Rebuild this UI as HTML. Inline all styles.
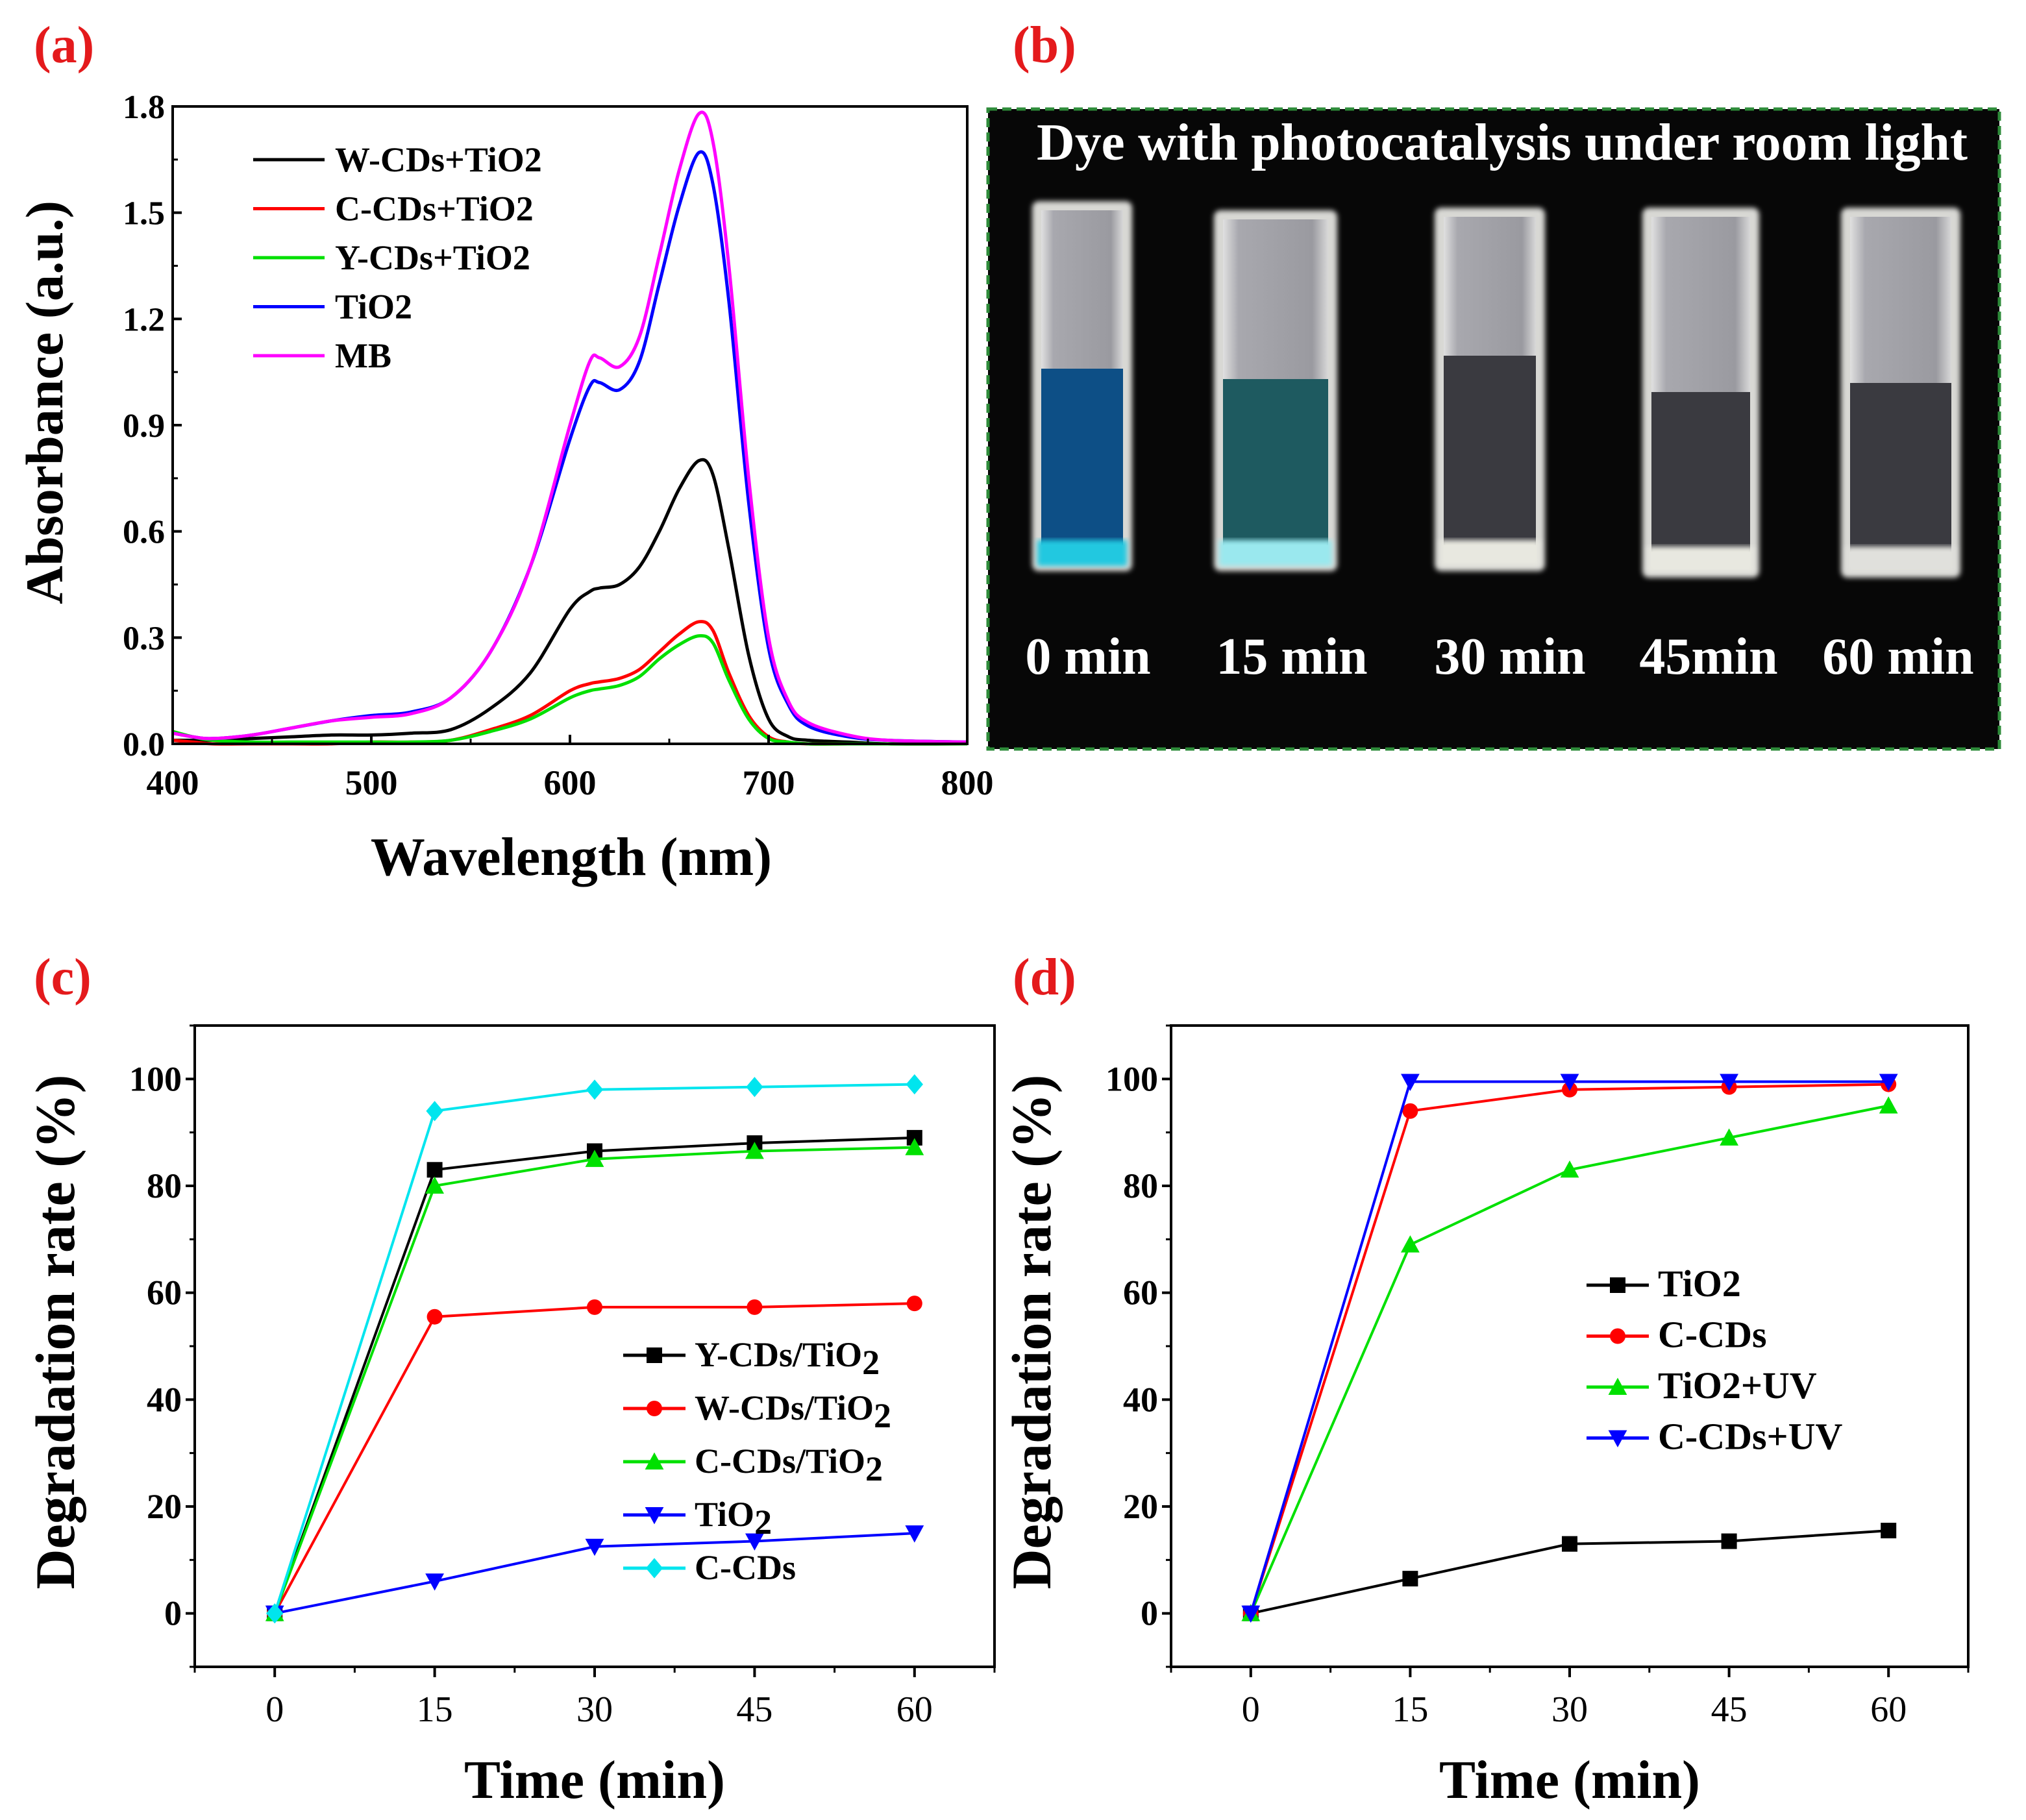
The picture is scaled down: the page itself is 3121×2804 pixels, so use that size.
<!DOCTYPE html>
<html><head><meta charset="utf-8"><style>
html,body{margin:0;padding:0;background:#fff;}
svg{display:block;font-family:"Liberation Serif",serif;}
</style></head><body>
<svg id="fig" xmlns="http://www.w3.org/2000/svg" width="3121" height="2804" viewBox="0 0 3121 2804">
<defs>
<linearGradient id="glass" x1="0" x2="1" y1="0" y2="0">
<stop offset="0" stop-color="#e0e0e0"/><stop offset="0.15" stop-color="#a8a8ae"/><stop offset="0.85" stop-color="#9a9aa0"/><stop offset="1" stop-color="#d8d8d8"/>
</linearGradient>
<filter id="blur"><feGaussianBlur stdDeviation="4"/></filter>
</defs>
<g id="panelA"></g>
<g id="panelB"></g>
<g id="panelC"></g>
<g id="panelD"></g>
</svg>
<script>
// ---------- Panel (a) data ----------
const wavelengths = [400,410,420,440,460,480,500,520,540,560,580,600,610,615,625,635,645,655,665,672,680,690,700,710,720,740,760,800];
const absMB   = [0.03,0.02,0.015,0.025,0.045,0.065,0.075,0.085,0.13,0.26,0.5,0.9,1.08,1.09,1.065,1.15,1.38,1.62,1.78,1.7,1.35,0.75,0.3,0.12,0.06,0.025,0.01,0.005];
const absTiO2 = [0.03,0.02,0.015,0.025,0.045,0.065,0.08,0.09,0.13,0.26,0.5,0.86,1.01,1.02,1.0,1.08,1.3,1.52,1.67,1.58,1.25,0.68,0.27,0.11,0.05,0.02,0.01,0.005];
const absW    = [0.01,0.01,0.01,0.015,0.02,0.025,0.025,0.03,0.04,0.1,0.2,0.38,0.43,0.44,0.45,0.5,0.6,0.72,0.8,0.76,0.55,0.25,0.07,0.02,0.01,0.005,0,0];
const absC    = [0.01,0.005,0,0,0,0,0.005,0.005,0.01,0.04,0.08,0.15,0.17,0.175,0.185,0.21,0.26,0.31,0.345,0.32,0.2,0.08,0.02,0.005,0,0,0,0];
const absY    = [0.035,0.02,0.01,0.005,0.005,0.005,0.005,0.005,0.01,0.035,0.07,0.13,0.15,0.155,0.165,0.19,0.24,0.28,0.305,0.285,0.18,0.07,0.015,0.005,0,0,0,0];
const aXTicks = [400,500,600,700,800];
const aYTicks = [0,0.3,0.6,0.9,1.2,1.5,1.8];
const aYTickLabels = ["0.0","0.3","0.6","0.9","1.2","1.5","1.8"];
const aLegend = ["W-CDs+TiO2","C-CDs+TiO2","Y-CDs+TiO2","TiO2","MB"];
// ---------- Panel (c) data ----------
const times = [0,15,30,45,60];
const cYCDs = [0,83,86.5,88,89];
const cWCDs = [0,55.5,57.3,57.3,58];
const cCCDsTiO2 = [0,80,85,86.5,87.2];
const cTiO2 = [0,6,12.5,13.5,15];
const cCCDs = [0,94,98,98.5,99];
// ---------- Panel (d) data ----------
const dTiO2 = [0,6.5,13,13.5,15.5];
const dCCDs = [0,94,98,98.5,99];
const dTiO2UV = [0,69,83,89,95];
const dCCDsUV = [0,99.5,99.5,99.5,99.5];
const timeTicks = [0,15,30,45,60];
const rateTicks = [0,20,40,60,80,100];

const NS="http://www.w3.org/2000/svg";
function mk(parent,tag,attrs,text){const e=document.createElementNS(NS,tag);for(const k in attrs)e.setAttribute(k,attrs[k]);if(text!==undefined)e.textContent=text;parent.appendChild(e);return e;}
function lin(d0,d1,r0,r1){return v=>r0+(v-d0)/(d1-d0)*(r1-r0);}
function smoothPath(p){
  let d=`M${p[0][0].toFixed(1)},${p[0][1].toFixed(1)}`;
  for(let i=0;i<p.length-1;i++){
    const p0=p[Math.max(0,i-1)],p1=p[i],p2=p[i+1],p3=p[Math.min(p.length-1,i+2)];
    const c1x=p1[0]+(p2[0]-p0[0])/6,c1y=p1[1]+(p2[1]-p0[1])/6;
    const c2x=p2[0]-(p3[0]-p1[0])/6,c2y=p2[1]-(p3[1]-p1[1])/6;
    d+=` C${c1x.toFixed(1)},${c1y.toFixed(1)} ${c2x.toFixed(1)},${c2y.toFixed(1)} ${p2[0].toFixed(1)},${p2[1].toFixed(1)}`;
  }
  return d;
}

function panelLabel(g,x,y,t){const e=mk(g,'text',{x:x,y:y,'font-size':80,'font-weight':'bold',fill:'#e41a1c'},t);

}

function frame(g,L,R,T,B){const e=mk(g,'rect',{x:L,y:T,width:R-L,height:B-T,fill:'none',stroke:'#000','stroke-width':4});

}

function marker(g,type,x,y,color){
  const s=12;let e;
  if(type==='square')e=mk(g,'rect',{x:x-s,y:y-s,width:2*s,height:2*s,fill:color});
  else if(type==='circle')e=mk(g,'circle',{cx:x,cy:y,r:s,fill:color});
  else if(type==='up')e=mk(g,'polygon',{points:`${x},${y-s*1.2} ${x-s*1.2},${y+s} ${x+s*1.2},${y+s}`,fill:color});
  else if(type==='down')e=mk(g,'polygon',{points:`${x},${y+s*1.2} ${x-s*1.2},${y-s} ${x+s*1.2},${y-s}`,fill:color});
  else e=mk(g,'polygon',{points:`${x},${y-s*1.3} ${x+s*1.1},${y} ${x},${y+s*1.3} ${x-s*1.1},${y}`,fill:color});
  
  
}

// ========== Panel A ==========
(function(){
  const g=document.getElementById('panelA');
  panelLabel(g,52,96,'(a)');
  const L=266,R=1490,T=164,B=1146;
  const X=lin(400,800,L,R),Y=lin(0,1.8,B,T);
  const series=[[absW,'#000','w-cds-tio2-line'],[absC,'#ff0000','c-cds-tio2-line'],[absY,'#00e000','y-cds-tio2-line'],[absTiO2,'#0000ff','tio2-line'],[absMB,'#ff00ff','mb-line']];
  series.forEach(s=>{
    const pts=wavelengths.map((w,i)=>[X(w),Y(s[0][i])]);
    const e=mk(g,'path',{d:smoothPath(pts),fill:'none',stroke:s[1],'stroke-width':5,'stroke-linejoin':'round'});
    
    
  });
  frame(g,L,R,T,B);
  aXTicks.forEach(v=>{mk(g,'line',{x1:X(v),x2:X(v),y1:B,y2:B-14,stroke:'#000','stroke-width':4});
    const t=mk(g,'text',{x:X(v),y:B+78,'font-size':54,'font-weight':'bold','text-anchor':'middle'},v);
    
    });
  for(let v=450;v<800;v+=100)mk(g,'line',{x1:X(v),x2:X(v),y1:B,y2:B-8,stroke:'#000','stroke-width':3});
  aYTicks.forEach((v,i)=>{mk(g,'line',{x1:L,x2:L+14,y1:Y(v),y2:Y(v),stroke:'#000','stroke-width':4});
    const t=mk(g,'text',{x:L-12,y:Y(v)+18,'font-size':52,'font-weight':'bold','text-anchor':'end'},aYTickLabels[i]);
    
    });
  for(let v=0.15;v<1.8;v+=0.3)mk(g,'line',{x1:L,x2:L+8,y1:Y(v),y2:Y(v),stroke:'#000','stroke-width':3});
  let t=mk(g,'text',{x:880,y:1348,'font-size':84,'font-weight':'bold','text-anchor':'middle'},'Wavelength (nm)');
  
  
  t=mk(g,'text',{x:0,y:0,'font-size':82,'font-weight':'bold','text-anchor':'middle',transform:'translate(96,620) rotate(-90)'},'Absorbance (a.u.)');
  
  
  const cols=['#000','#ff0000','#00e000','#0000ff','#ff00ff'];
  aLegend.forEach((n,i)=>{const y=246+i*75.5;
    mk(g,'line',{x1:390,x2:500,y1:y,y2:y,stroke:cols[i],'stroke-width':5});
    const e=mk(g,'text',{x:516,y:y+18,'font-size':54,'font-weight':'bold'},n);
    
    });
})();

// ========== Panel B (photo) ==========
(function(){
  const g=document.getElementById('panelB');
  panelLabel(g,1560,96,'(b)');
  let e=mk(g,'rect',{x:1522,y:168,width:1558,height:986,fill:'#070707',stroke:'#2e8b3a','stroke-width':5,'stroke-dasharray':'14,8'});
  
  
  e=mk(g,'text',{x:2314,y:246,'font-size':80,'font-weight':'bold',fill:'#fff','text-anchor':'middle',textLength:1434,lengthAdjust:'spacingAndGlyphs'},'Dye with photocatalysis under room light');
  
  
  const cuv=[[1590,1744,310,880,'#0d4f86',568,'#20c8e0'],[1870,2060,324,880,'#1e5a60',584,'#9ae8ee'],[2210,2380,320,880,'#3a3a40',548,'#e8e8e0'],[2530,2710,320,890,'#3a3a40',604,'#e8e8e0'],[2836,3020,320,890,'#3a3a40',590,'#e0e0dc']];
  const labels=['0 min','15 min','30 min','45min','60 min'];
  const lx=[1676,1990,2326,2632,2924];
  cuv.forEach((c,i)=>{
    const [x0,x1,y0,y1,liq,ly,bot]=c;
    const cg=mk(g,'g',{});
    
    
    mk(cg,'rect',{x:x0,y:y0,width:x1-x0,height:y1-y0,rx:10,fill:'#d8d8d4',filter:'url(#blur)'});
    mk(cg,'rect',{x:x0+14,y:y0+14,width:x1-x0-28,height:ly-y0-14,fill:'url(#glass)'});
    mk(cg,'rect',{x:x0+14,y:ly,width:x1-x0-28,height:y1-ly-40,fill:liq});
    mk(cg,'rect',{x:x0+8,y:y1-48,width:x1-x0-16,height:40,fill:bot,filter:'url(#blur)'});
    const t=mk(g,'text',{x:lx[i],y:1038,'font-size':80,'font-weight':'bold',fill:'#fff','text-anchor':'middle'},labels[i]);
    
    
  });
})();

// ========== Panels C & D ==========
function degPanel(id,label,labX,L,R,seriesList,legendX,legendY0,legendStep,legendFont){
  const g=document.getElementById(id);
  panelLabel(g,labX,1532,label);
  const T=1580,B=2568;
  const X=lin(-7.5,67.5,L,R),Y=lin(-10,110,B,T);
  seriesList.forEach(s=>{
    const pts=times.map((t,i)=>X(t).toFixed(1)+','+Y(s.vals[i]).toFixed(1)).join(' ');
    const e=mk(g,'polyline',{points:pts,fill:'none',stroke:s.color,'stroke-width':4});
    
    
    times.forEach((t,i)=>marker(g,s.mk,X(t),Y(s.vals[i]),s.color));
  });
  frame(g,L,R,T,B);
  timeTicks.forEach(v=>{mk(g,'line',{x1:X(v),x2:X(v),y1:B,y2:B+16,stroke:'#000','stroke-width':4});
    const t=mk(g,'text',{x:X(v),y:B+84,'font-size':56,'text-anchor':'middle'},v);
    
    });
  for(let v=-7.5;v<=67.5;v+=15)mk(g,'line',{x1:X(v),x2:X(v),y1:B,y2:B+9,stroke:'#000','stroke-width':3});
  rateTicks.forEach(v=>{mk(g,'line',{x1:L,x2:L-14,y1:Y(v),y2:Y(v),stroke:'#000','stroke-width':4});
    const t=mk(g,'text',{x:L-20,y:Y(v)+18,'font-size':54,'font-weight':'bold','text-anchor':'end'},v);
    
    });
  for(let v=-10;v<=110;v+=20)mk(g,'line',{x1:L,x2:L-8,y1:Y(v),y2:Y(v),stroke:'#000','stroke-width':3});
  let t=mk(g,'text',{x:(L+R)/2,y:2770,'font-size':84,'font-weight':'bold','text-anchor':'middle'},'Time (min)');
  
  
  t=mk(g,'text',{x:0,y:0,'font-size':86,'font-weight':'bold','text-anchor':'middle',transform:`translate(${L-186},2052) rotate(-90)`},'Degradation rate (%)');
  
  
  seriesList.forEach((s,i)=>{const y=legendY0+i*legendStep;
    mk(g,'line',{x1:legendX,x2:legendX+96,y1:y,y2:y,stroke:s.color,'stroke-width':5});
    marker(g,s.mk,legendX+48,y,s.color);
    const e=mk(g,'text',{x:legendX+110,y:y+17,'font-size':legendFont,'font-weight':'bold'});
    
    
    if(s.sub){e.textContent=s.label;mk(e,'tspan',{dy:12,'font-size':legendFont},'2');}
    else e.textContent=s.label;
  });
}
degPanel('panelC','(c)',52,300,1532,[
  {vals:cYCDs,color:'#000',mk:'square',name:'y-cds-tio2',label:'Y-CDs/TiO',sub:true},
  {vals:cWCDs,color:'#ff0000',mk:'circle',name:'w-cds-tio2',label:'W-CDs/TiO',sub:true},
  {vals:cCCDsTiO2,color:'#00e000',mk:'up',name:'c-cds-tio2',label:'C-CDs/TiO',sub:true},
  {vals:cTiO2,color:'#0000ff',mk:'down',name:'tio2',label:'TiO',sub:true},
  {vals:cCCDs,color:'#00e5ee',mk:'diamond',name:'c-cds',label:'C-CDs'}
],960,2088,82,54);
degPanel('panelD','(d)',1560,1804,3032,[
  {vals:dTiO2,color:'#000',mk:'square',name:'tio2',label:'TiO2'},
  {vals:dCCDs,color:'#ff0000',mk:'circle',name:'c-cds',label:'C-CDs'},
  {vals:dTiO2UV,color:'#00e000',mk:'up',name:'tio2-uv',label:'TiO2+UV'},
  {vals:dCCDsUV,color:'#0000ff',mk:'down',name:'c-cds-uv',label:'C-CDs+UV'}
],2444,1980,78.5,58);
</script>
</body></html>
